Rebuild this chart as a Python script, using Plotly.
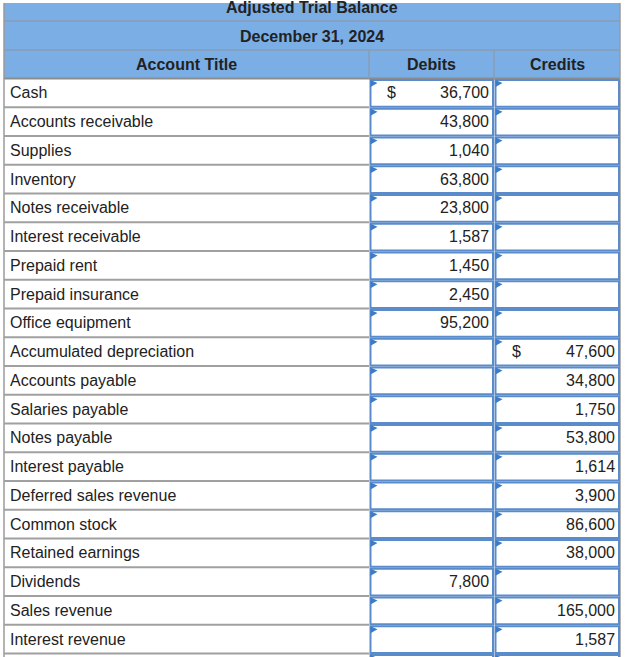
import plotly.graph_objects as go

# --- data ---
title_lines = ["Adjusted Trial Balance", "December 31, 2024"]
col_headers = ["Account Title", "Debits", "Credits"]
accounts = [
    "Cash", "Accounts receivable", "Supplies", "Inventory", "Notes receivable",
    "Interest receivable", "Prepaid rent", "Prepaid insurance", "Office equipment",
    "Accumulated depreciation", "Accounts payable", "Salaries payable",
    "Notes payable", "Interest payable", "Deferred sales revenue",
    "Common stock", "Retained earnings", "Dividends", "Sales revenue",
    "Interest revenue",
]
debits = [36700, 43800, 1040, 63800, 23800, 1587, 1450, 2450, 95200,
          None, None, None, None, None, None, None, None, 7800, None, None]
credits = [None, None, None, None, None, None, None, None, None,
           47600, 34800, 1750, 53800, 1614, 3900, 86600, 38000, None, 165000, 1587]

# --- layout geometry (pixels) ---
W, H = 642, 657
X_L, X_C1, X_C2, X_R = 4, 369, 494, 620
ROW_H = 28.74
HEAD_TOP = 3
TITLE_B = 21
DATE_B = 50
BODY_TOP = 78.6
HEADER_BLUE = "#7aaee5"
GRID = "#a0a0a0"
BOX_BLUE = "#5a8ccc"
TRI_BLUE = "#3c7bc8"
TEXT = "#222222"
FONT = "Liberation Sans, Arial, sans-serif"
FS = 16

fig = go.Figure()
shapes = []
ann = []

# header band
shapes.append(dict(type="rect", x0=X_L, x1=X_R, y0=HEAD_TOP, y1=BODY_TOP,
                   fillcolor=HEADER_BLUE, line=dict(width=0), layer="below"))
for yy in [TITLE_B, DATE_B]:
    shapes.append(dict(type="line", x0=X_L, x1=X_R, y0=yy, y1=yy,
                       line=dict(color="#8a9db5", width=1.5)))
shapes.append(dict(type="line", x0=X_L, x1=X_R, y0=BODY_TOP, y1=BODY_TOP,
                   line=dict(color="#8c8c8c", width=2)))
for xx in [X_C1, X_C2]:
    shapes.append(dict(type="line", x0=xx, x1=xx, y0=DATE_B, y1=BODY_TOP,
                       line=dict(color="#8a9db5", width=1.5)))
shapes.append(dict(type="line", x0=X_R, x1=X_R, y0=HEAD_TOP, y1=H,
                   line=dict(color="#9a9a9a", width=1.5)))
shapes.append(dict(type="line", x0=X_L, x1=X_L, y0=HEAD_TOP, y1=H,
                   line=dict(color="#9a9a9a", width=1.5)))

ann.append(dict(x=(X_L + X_R) / 2, y=7.5, text="<b>" + title_lines[0] + "</b>"))
ann.append(dict(x=(X_L + X_R) / 2, y=36, text="<b>" + title_lines[1] + "</b>"))
ann.append(dict(x=(X_L + X_C1) / 2, y=64.5, text="<b>" + col_headers[0] + "</b>"))
ann.append(dict(x=(X_C1 + X_C2) / 2, y=64.5, text="<b>" + col_headers[1] + "</b>"))
ann.append(dict(x=(X_C2 + X_R) / 2, y=64.5, text="<b>" + col_headers[2] + "</b>"))


def fmt(v):
    return "" if v is None else f"{v:,}"


n = len(accounts)
first_credit = next(i for i, v in enumerate(credits) if v is not None)
for i in range(n + 1):
    y0 = BODY_TOP + i * ROW_H
    y1 = y0 + ROW_H
    shapes.append(dict(type="line", x0=X_L, x1=X_C1, y0=y1, y1=y1,
                       line=dict(color=GRID, width=2)))
    # input boxes
    for bx0, bx1 in [(X_C1 + 1.5, X_C2 - 1), (X_C2 + 1.5, X_R - 1)]:
        shapes.append(dict(type="rect", x0=bx0, x1=bx1, y0=y0 + 1.5, y1=y1 - 0.5,
                           fillcolor="white", line=dict(color=BOX_BLUE, width=2)))
        shapes.append(dict(type="path",
                           path=f"M {bx0} {y0 + 1.5} L {bx0 + 7} {y0 + 4.5} L {bx0} {y0 + 8.5} Z",
                           fillcolor=TRI_BLUE, line=dict(width=0)))
    if i >= n:
        continue
    yc = y0 + ROW_H / 2
    ann.append(dict(x=X_L + 4, y=yc, text=accounts[i], xanchor="left"))
    if debits[i] is not None:
        ann.append(dict(x=X_C2 - 3, y=yc, text=fmt(debits[i]), xanchor="right"))
        if i == 0:
            ann.append(dict(x=X_C1 + 16, y=yc, text="$", xanchor="left"))
    if credits[i] is not None:
        ann.append(dict(x=X_R - 3, y=yc, text=fmt(credits[i]), xanchor="right"))
        if i == first_credit:
            ann.append(dict(x=X_C2 + 16, y=yc, text="$", xanchor="left"))

for a in ann:
    a.setdefault("xanchor", "center")
    a.update(xref="x", yref="y", yanchor="middle", showarrow=False,
             font=dict(family=FONT, size=FS, color=TEXT))

fig.update_layout(
    width=W, height=H,
    margin=dict(l=0, r=0, t=0, b=0),
    paper_bgcolor="white", plot_bgcolor="white",
    shapes=shapes, annotations=ann,
    xaxis=dict(range=[0, W], visible=False, fixedrange=True),
    yaxis=dict(range=[H, 0], visible=False, fixedrange=True),
    showlegend=False,
)

fig.write_html("out.html", config={"displayModeBar": False},
               post_script="document.body.style.margin='0px';")
